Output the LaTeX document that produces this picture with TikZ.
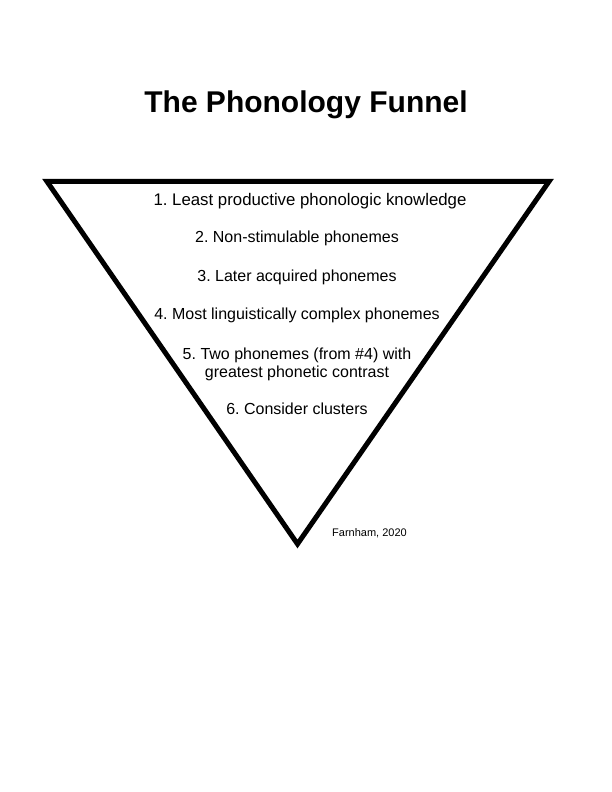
\documentclass[tikz,border=0pt]{standalone}
\usepackage{fontspec}
\setmainfont{Liberation Sans}
\frenchspacing
\begin{document}
\begin{tikzpicture}[x=1pt,y=1pt,
  item/.style={anchor=base,inner sep=0pt,font=\fontsize{16}{19}\selectfont},
  titletext/.style={anchor=base,inner sep=0pt,font=\fontsize{30}{36}\selectfont\bfseries},
  credit/.style={anchor=base west,inner sep=0pt,font=\fontsize{11}{13}\selectfont}]
\useasboundingbox (0,0) rectangle (612,792);
\fill[white] (0,0) rectangle (612,792);
\coordinate (tl) at (47,610.5);
\coordinate (tr) at (549,610.5);
\coordinate (bt) at (297.5,248);
\draw[line width=5pt,line join=miter] (tl) -- (tr) -- (bt) -- cycle;
\node[titletext] (title) at (306,679) {The Phonology Funnel};
\node[item,font=\fontsize{16.8}{19}\selectfont] (i1) at (310,586) {1. Least productive phonologic knowledge};
\node[item] (i2) at (297,549) {2. Non-stimulable phonemes};
\node[item] (i3) at (297,510) {3. Later acquired phonemes};
\node[item] (i4) at (297,472) {4. Most linguistically complex phonemes};
\node[item] (i5a) at (297,432) {5. Two phonemes (from \#4) with};
\node[item] (i5b) at (297,414) {greatest phonetic contrast};
\node[item] (i6) at (297,377) {6. Consider clusters};
\node[credit] (cr) at (332,255) {Farnham, 2020};
\end{tikzpicture}
\end{document}
